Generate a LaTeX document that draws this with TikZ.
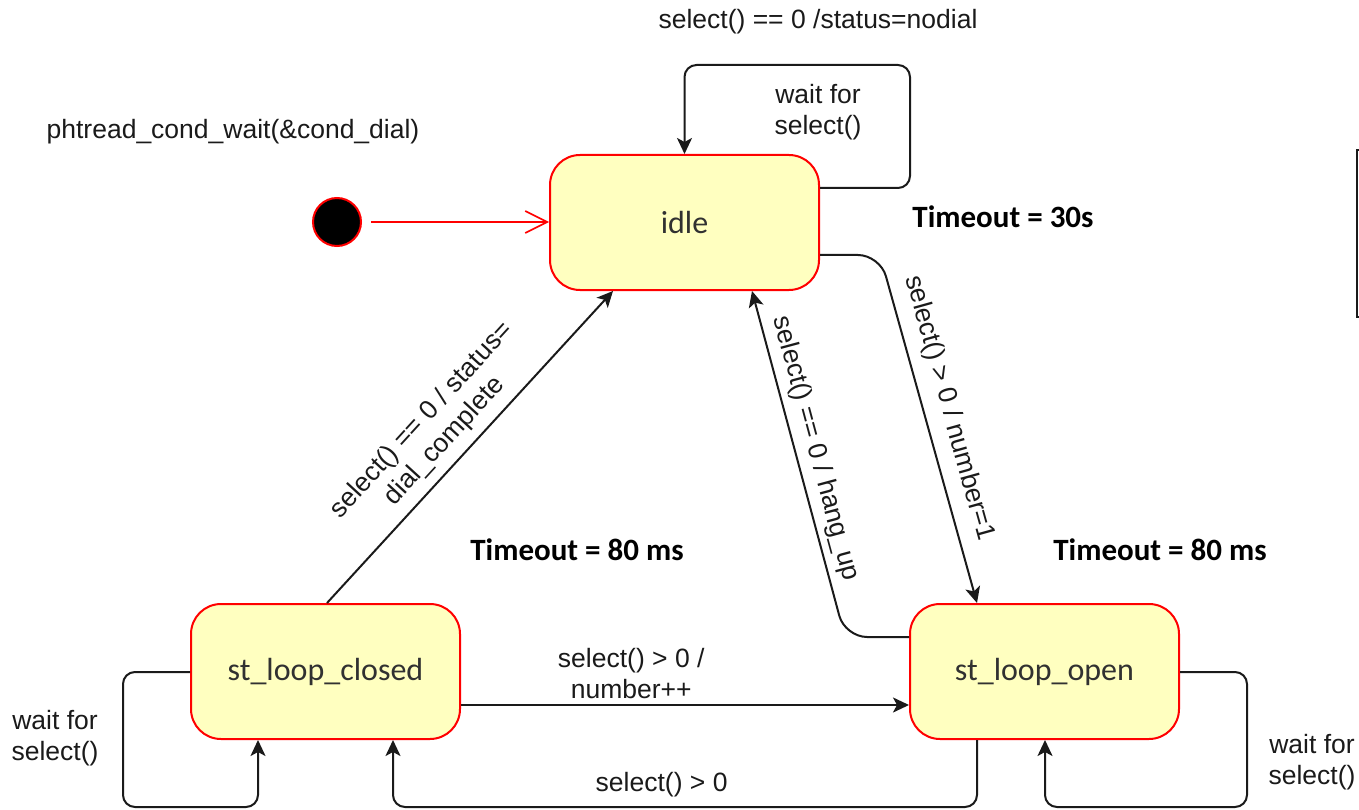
\documentclass[tikz,border=0pt]{standalone}
\usepackage{fontspec}
\setmainfont{Liberation Sans}
\newfontfamily\calib{Carlito}
\usetikzlibrary{arrows.meta,calc}
\definecolor{statefill}{HTML}{FFFFC0}
\definecolor{stateline}{HTML}{FF0000}
\definecolor{ink}{HTML}{1A1A1A}
\tikzset{
  statebox/.style={draw=stateline, fill=statefill, line width=2pt, rounded corners=30pt,
    minimum width=269pt, minimum height=135pt, inner sep=0pt,
    font=\calib\fontsize{32}{38}\selectfont, text=ink!90},
  initdot/.style={circle, draw=stateline, fill=black, line width=2pt, minimum size=48pt, inner sep=0pt},
  trans/.style={draw=ink, line width=2pt, rounded corners=12pt,
    -{Stealth[length=16pt,width=15pt,inset=4pt]}},
  initarrow/.style={draw=stateline, line width=1.6pt, -{Straight Barb[length=22pt,width=22pt,line width=1.6pt]}},
  lbl/.style={font=\fontsize{26.5}{31}\selectfont, text=ink, align=center, inner sep=3pt},
  timeout/.style={font=\calib\bfseries\fontsize{31}{36}\selectfont, text=black, inner sep=0pt}
}
\begin{document}
\begin{tikzpicture}[x=1pt, y=-1pt]
  \useasboundingbox (0,0) rectangle (1359,810);

  % states
  \node[statebox] (idle)   at (684.5,222.5) {idle};
  \node[statebox] (closed) at (325.5,671.5) {st\_loop\_closed};
  \node[statebox] (open)   at (1044.5,671.5) {st\_loop\_open};
  \node[initdot]  (init)   at (337,222) {};

  % free texts
  \node[lbl]     (cond)    at (233,132) {phtread\_cond\_wait(\&cond\_dial)};
  \node[lbl]     (nodial)  at (818,22)  {select() == 0 /status=nodial};
  \node[lbl]     (waitI)   at (818,112) {wait for\\select()};
  \node[lbl]     (waitC)   at (55,738)  {wait for\\select()};
  \node[lbl]     (waitO)   at (1312,762) {wait for\\select()};
  \node[timeout] (toIdle)  at (1003,217) {Timeout = 30s};
  \node[timeout] (toClose) at (577,550)  {Timeout = 80 ms};
  \node[timeout] (toOpen)  at (1160,550) {Timeout = 80 ms};

  % initial transition
  \draw[initarrow] ([xshift=9pt]init.east) -- (idle.west |- init);

  % idle: wait for select()
  \draw[trans] (idle.east |- 0,188) -- (910,188) -- (910,65) -- (684.5,65) -- (idle.north);

  % idle -> st_loop_open
  \draw[trans, rounded corners=22pt] (idle.east |- 0,255) -- (880,255)
    -- node[lbl, sloped, above=9pt, pos=0.46] (lIO) {select() > 0 / number=1} (open.north -| 977,0);

  % st_loop_open -> idle
  \draw[trans, rounded corners=22pt] (open.west |- 0,637) -- (845,637)
    -- node[lbl, sloped, above=4pt, pos=0.53] (lOI) {select() == 0 / hang\_up} (idle.south -| 752,0);

  % st_loop_closed -> idle
  \draw[trans] (closed.north -| 327,0)
    -- node[lbl, sloped, above=6pt, pos=0.47] (lCI) {select() == 0 / status=\\dial\_complete} (idle.south -| 613,0);

  % st_loop_closed -> st_loop_open
  \draw[trans] (closed.east |- 0,705)
    -- node[lbl, above=2pt, pos=0.38] (lCO) {select() > 0 /\\number++} (open.west |- 0,705);

  % st_loop_open -> st_loop_closed
  \draw[trans] (open.south -| 977,0) -- (977,807)
    -- node[lbl, above=6pt, pos=0.54] (lOC) {select() > 0} (393,807) -- (closed.south -| 393,0);

  % st_loop_closed: wait for select()
  \draw[trans] (closed.west |- 0,672) -- (123,672) -- (123,807) -- (258,807) -- (closed.south -| 258,0);

  % st_loop_open: wait for select()
  \draw[trans] (open.east |- 0,672) -- (1247,672) -- (1247,807) -- (1045,807) -- (open.south -| 1045,0);

  % edge of a box at the right border
  \draw[ink, line width=1.5pt] (1359,150) -- (1357,150) -- (1357,317) -- (1359,317);
\end{tikzpicture}
\end{document}
